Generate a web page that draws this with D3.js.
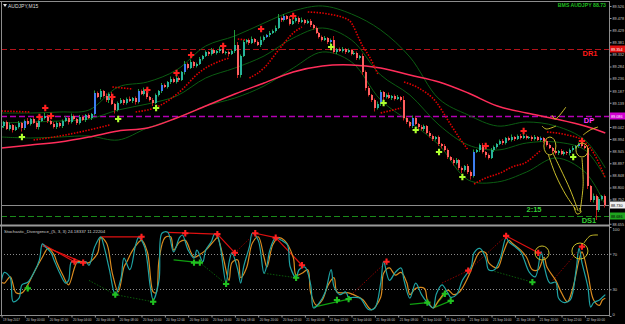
<!DOCTYPE html>
<html>
<head>
<meta charset="utf-8">
<script src="https://cdn.jsdelivr.net/npm/d3@7"></script>
<style>
  html, body { margin: 0; padding: 0; background: #000; overflow: hidden; }
  svg { display: block; }
  text { font-family: "Liberation Sans", Arial, sans-serif; }
</style>
</head>
<body>
<svg id="chart" width="625" height="324"></svg>
<script>
// AUDJPY M15, bar 0 = 19 Sep 2017 22:00
const startTime = Date.UTC(2017, 8, 19, 22, 0);
const firstOpen = 89.040;
const closes = [
  89.046,89.062,89.034,89.050,89.030,89.042,89.058,89.038,89.066,89.054,
  89.074,89.058,89.042,89.066,89.078,89.086,89.066,89.054,89.042,89.058,
  89.046,89.066,89.078,89.062,89.086,89.074,89.058,89.082,89.070,89.090,
  89.078,89.094,89.178,89.162,89.186,89.166,89.150,89.174,89.134,89.110,
  89.138,89.150,89.138,89.154,89.146,89.158,89.142,89.186,89.174,89.190,
  89.162,89.150,89.138,89.170,89.186,89.210,89.202,89.222,89.234,89.222,
  89.238,89.230,89.262,89.294,89.278,89.302,89.286,89.294,89.314,89.326,
  89.342,89.334,89.350,89.338,89.346,89.354,89.338,89.342,89.334,89.346,
  89.370,89.250,89.326,89.382,89.390,89.378,89.394,89.382,89.370,89.390,
  89.402,89.410,89.418,89.426,89.438,89.478,89.470,89.486,89.474,89.454,
  89.466,89.478,89.462,89.470,89.458,89.466,89.450,89.438,89.418,89.402,
  89.390,89.398,89.382,89.390,89.342,89.354,89.346,89.354,89.342,89.350,
  89.334,89.338,89.318,89.326,89.262,89.198,89.170,89.150,89.118,89.134,
  89.182,89.162,89.170,89.158,89.166,89.154,89.162,89.150,89.078,89.062,
  89.046,89.078,89.054,89.042,89.034,89.046,89.018,89.006,88.994,89.002,
  88.974,88.966,88.950,88.922,88.910,88.898,88.910,88.878,88.870,88.886,
  88.862,88.846,88.942,88.950,88.970,88.942,88.930,88.918,88.950,88.962,
  88.974,88.986,88.978,88.998,88.990,89.002,88.994,89.006,88.998,89.006,
  88.998,89.002,88.994,89.002,88.990,88.998,88.986,88.970,88.958,88.946,
  88.938,88.946,88.934,88.942,88.938,88.950,88.958,88.966,88.974,88.966,
  88.958,88.806,88.750,88.766,88.710,88.754,88.766,88.730
];
// wick lengths in points (0.001)
const wickUp = [
  8,4,6,10,4,6,8,4,6,12, 4,8,6,4,8,12,6,4,8,6, 4,6,8,4,10,6,4,8,6,4,
  6,4,10,6,8,4,10,6,8,4, 6,8,4,6,10,4,6,8,6,10, 6,4,8,6,4,8,6,4,10,6,
  8,6,4,12,6,10,4,6,8,4, 6,4,8,6,4,10,8,4,6,4, 60,12,6,8,4,6,10,4,6,14,
  6,4,8,6,10,16,6,8,4,12, 8,4,6,10,4,6,8,4,6,4, 6,8,4,6,16,4,6,8,4,6,
  4,8,6,4,10,6,8,4,6,10, 8,4,6,10,4,6,8,4,16,6, 4,10,6,4,8,6,4,8,6,4,
  6,4,8,6,4,6,8,4,6,4, 8,6,10,4,6,8,4,6,8,6, 4,6,8,4,6,10,4,6,8,10,
  6,4,6,8,4,6,4,8,6,4, 6,4,8,6,4,6,8,4,6,12, 6,8,4,10,6,8,4,6
];
const wickDn = [
  6,8,4,6,10,4,6,14,8,4, 6,4,8,10,4,6,8,4,6,8, 6,8,4,10,6,4,8,6,4,8,
  4,8,6,4,10,6,8,12,4,14, 6,4,8,6,4,8,10,6,4,6, 8,6,12,4,6,8,4,6,8,4,
  6,8,4,10,6,4,8,6,4,6, 4,8,6,4,6,8,4,6,10,4, 8,12,10,4,6,8,4,6,4,8,
  6,4,8,4,6,4,8,6,4,6, 4,6,8,4,6,4,8,6,4,6, 6,4,8,12,6,8,4,6,8,4,
  6,4,8,6,12,10,6,8,14,6, 8,12,6,4,8,6,4,6,10,8, 6,8,4,10,6,8,4,6,8,6,
  8,10,6,8,4,10,6,8,12,6, 8,14,6,4,8,6,10,6,4,8, 6,4,8,6,4,6,8,4,6,4,
  6,4,8,6,4,6,8,6,4,8, 6,8,4,6,8,10,6,4,8,6, 4,12,8,10,40,8,6,10
];
const blueBars = [8, 20, 32, 47, 55, 63, 91, 97, 113, 130, 141, 162, 185, 198];

// Bollinger bands and moving average, sampled every 10 bars
const bandIdx   = [0,10,20,30,40,50,60,70,80,90,100,110,120,130,140,150,160,170,180,190,200,207];
const bandUpper = [89.098,89.098,89.102,89.110,89.202,89.222,89.270,89.366,89.406,89.458,89.506,89.526,89.494,89.430,89.322,89.154,89.090,89.046,89.062,89.046,88.990,88.878];
const bandMid   = [89.058,89.062,89.066,89.074,89.110,89.134,89.166,89.238,89.278,89.326,89.398,89.438,89.390,89.250,89.170,89.050,88.970,88.950,88.978,88.982,88.950,88.838];
const bandLower = [89.002,88.998,89.002,89.006,88.990,89.038,89.078,89.126,89.158,89.206,89.278,89.342,89.302,89.150,89.062,88.970,88.830,88.822,88.862,88.918,88.862,88.730];
const maValues  = [88.958,88.970,88.982,89.002,89.026,89.038,89.078,89.126,89.174,89.218,89.262,89.286,89.290,89.278,89.250,89.222,89.178,89.126,89.098,89.074,89.046,89.018];

// Parabolic SAR, one list per trend
const sarSegments = [
  [[0,89.106],[10,89.102]],
  [[11,88.990],[20,89.006],[30,89.030],[37,89.050]],
  [[38,89.202],[45,89.194]],
  [[46,89.102],[54,89.126],[61,89.182],[68,89.262],[78,89.318]],
  [[81,89.394],[84,89.390]],
  [[85,89.238],[90,89.278],[95,89.350],[100,89.418],[103,89.442]],
  [[105,89.502],[112,89.494],[119,89.470],[124,89.362],[126,89.326],[129,89.254]],
  [[130,89.098],[137,89.118]],
  [[138,89.222],[143,89.198],[149,89.142],[153,89.070],[157,88.998],[160,88.950]],
  [[162,88.814],[166,88.838],[171,88.858],[175,88.882],[180,88.902],[183,88.930],[185,88.950]],
  [[187,89.022],[194,89.010],[199,88.990],[203,88.938],[207,88.838]]
];

// fractals
const fractalHigh = [[13,89.082],[15,89.118],[17,89.086],[38,89.162],[50,89.190],[60,89.258],[65,89.330],[76,89.366],[89,89.434],[100,89.486],[166,88.966],[179,89.026],[199,88.986]];
const fractalLow  = [[7,89.002],[40,89.074],[53,89.118],[113,89.362],[131,89.138],[142,89.030],[150,88.942],[158,88.842],[196,88.922]];

// pivot levels
const levelR1 = 89.354, levelDP = 89.086, levelS1 = 88.686;
const priceTicks = [89.526,89.478,89.429,89.381,89.332,89.284,89.236,89.187,89.139,89.090,89.042,88.994,88.945,88.897,88.848,88.800,88.752,88.703,88.655];

// stochastic (bar index, value)
const stochMain = [[0,40],[1,49],[3,43],[4,16],[6,20],[7,35],[9,38],[11,48],[13,63],[14,81],[15,78],[17,71],[18,63],[20,48],[22,37],[23,40],[24,61],[26,60],[27,60],[29,61],[30,57],[32,78],[34,89],[35,80],[37,52],[39,24],[41,43],[42,65],[44,52],[46,80],[47,88],[49,78],[51,33],[52,18],[54,40],[55,93],[57,94],[59,72],[61,88],[62,91],[64,74],[66,65],[67,74],[69,61],[70,74],[72,84],[73,92],[74,90],[75,78],[77,37],[78,60],[79,71],[81,52],[82,37],[83,55],[85,78],[86,93],[88,85],[90,48],[91,57],[92,74],[94,88],[96,85],[98,80],[99,55],[101,43],[102,52],[104,55],[106,35],[107,9],[109,15],[111,27],[113,52],[114,33],[116,24],[118,27],[119,21],[121,21],[123,20],[125,10],[126,7],[128,9],[130,37],[131,61],[133,40],[135,49],[137,54],[138,40],[140,20],[142,37],[144,24],[146,15],[148,9],[149,24],[151,35],[153,26],[154,21],[156,24],[158,40],[161,55],[162,71],[164,76],[166,65],[167,52],[169,52],[171,65],[173,88],[174,83],[176,78],[178,72],[179,65],[181,49],[183,44],[185,72],[186,57],[188,37],[190,38],[191,20],[193,15],[195,18],[197,52],[198,76],[199,60],[201,33],[202,10],[203,15],[205,18],[206,21],[207,24]];
const stochSignal = [[0,38],[1,37],[3,44],[5,26],[7,26],[9,35],[11,48],[14,66],[16,76],[18,69],[19,60],[21,46],[23,35],[25,54],[26,61],[29,60],[30,60],[33,71],[34,88],[36,82],[38,48],[40,27],[42,55],[43,61],[45,74],[48,85],[50,72],[52,27],[53,26],[54,63],[56,88],[58,89],[59,74],[61,83],[63,85],[65,71],[66,66],[68,69],[70,74],[73,85],[74,88],[76,66],[78,40],[79,60],[81,63],[82,43],[84,54],[86,82],[88,89],[90,66],[91,55],[93,80],[95,88],[97,85],[100,66],[101,46],[103,48],[105,52],[106,26],[108,12],[110,18],[112,35],[114,43],[115,27],[117,26],[119,26],[122,22],[124,18],[126,9],[127,7],[130,21],[131,48],[133,54],[135,46],[137,49],[139,37],[140,24],[142,31],[145,31],[146,18],[148,9],[150,18],[153,29],[155,24],[157,27],[160,44],[162,60],[164,72],[166,71],[167,60],[170,54],[172,71],[174,85],[175,82],[178,74],[180,66],[182,52],[184,52],[186,66],[187,55],[190,40],[192,26],[194,16],[196,33],[198,63],[199,72],[201,48],[203,18],[205,12],[206,18],[207,20]];
const stochLevels = [70, 30];
const stochTicks = [100, 70, 30, 0];

// divergence markers and lines in the stochastic window
const divPeaks   = [[25,61],[28,60],[48,89],[63,93],[74,92],[80,71],[87,93],[94,88],[103,57],[132,61],[160,51],[173,90],[184,71],[199,78]];
const divTroughs = [[9,31],[39,24],[52,16],[66,60],[68,60],[77,36],[101,43],[115,18],[119,19],[146,15],[152,25],[154,17],[182,38]];
const divLines = [
  {side:"bear", kind:"regular", a:[14,81], b:[25,61]},
  {side:"bear", kind:"regular", a:[14,79], b:[28,60]},
  {side:"bear", kind:"regular", a:[34,89], b:[48,89]},
  {side:"bear", kind:"regular", a:[57,94], b:[74,92]},
  {side:"bear", kind:"regular", a:[74,92], b:[80,71]},
  {side:"bear", kind:"hidden",  a:[80,71], b:[87,93]},
  {side:"bear", kind:"regular", a:[87,93], b:[94,88]},
  {side:"bear", kind:"regular", a:[94,88], b:[103,57]},
  {side:"bear", kind:"hidden",  a:[119,21], b:[132,61]},
  {side:"bear", kind:"hidden",  a:[151,37], b:[160,51]},
  {side:"bear", kind:"hidden",  a:[160,51], b:[173,90]},
  {side:"bear", kind:"regular", a:[173,90], b:[184,71]},
  {side:"bear", kind:"hidden",  a:[189,40], b:[199,78]},
  {side:"bull", kind:"hidden",  a:[30,40], b:[39,24]},
  {side:"bull", kind:"hidden",  a:[39,24], b:[52,16]},
  {side:"bull", kind:"regular", a:[59,63], b:[68,60]},
  {side:"bull", kind:"hidden",  a:[68,60], b:[77,36]},
  {side:"bull", kind:"hidden",  a:[90,48], b:[101,43]},
  {side:"bull", kind:"regular", a:[107,10], b:[119,19]},
  {side:"bull", kind:"regular", a:[140,13], b:[146,15]},
  {side:"bull", kind:"regular", a:[148,9], b:[152,25]},
  {side:"bull", kind:"regular", a:[148,9], b:[154,17]},
  {side:"bull", kind:"hidden",  a:[167,52], b:[182,38]}
];

// hand drawn notes (bar index, price / stoch value)
const noteStrokesMain = [
  [[187.5,88.930],[190,88.850],[193.5,88.770],[197,88.710]],
  [[189,88.938],[191.5,88.878],[195,88.790],[197.7,88.706]],
  [[199,88.918],[199.4,88.810],[198.3,88.702]],
  [[196.3,88.722],[197.3,88.694],[198.7,88.702],[198,88.718]],
  [[188.7,89.090],[189.8,89.074],[193.5,89.122]],
  [[185.3,89.046],[186.7,89.034],[190.1,89.046]],
  [[199.4,89.010],[201.8,89.030],[204.5,89.042]]
];
const noteCirclesMain = [[188,88.966],[199,88.950]];
const noteStrokesStoch = [[[199.7,82],[201.8,90],[204.5,91]]];
const noteCirclesStoch = [[185.3,70.8],[198.3,73]];

// ---------------------------------------------------------------
const svg = d3.select("#chart");
svg.append("rect").attr("width", 625).attr("height", 324).attr("fill", "#000");

const n = closes.length;
const x = d3.scaleLinear().domain([0, n - 1]).range([1.5, 605.3]);
const y = d3.scaleLinear().domain([89.550, 88.650]).range([0, 225]);
const yS = d3.scaleLinear().domain([0, 100]).range([316, 227]);
const xTime = d3.scaleUtc()
  .domain([new Date(startTime), new Date(startTime + (n - 1) * 900000)])
  .range([1.5, 605.3]);

const defs = svg.append("defs");
defs.append("clipPath").attr("id", "clipMain").append("rect")
  .attr("x", 1).attr("y", 2).attr("width", 608).attr("height", 223);
defs.append("clipPath").attr("id", "clipStoch").append("rect")
  .attr("x", 1).attr("y", 227).attr("width", 608).attr("height", 88);

const gMain = svg.append("g").attr("clip-path", "url(#clipMain)");
const gStoch = svg.append("g").attr("clip-path", "url(#clipStoch)");

// horizontal levels
function hline(g, yy, color, dash, w) {
  g.append("line").attr("x1", 1).attr("x2", 609)
    .attr("y1", Math.round(yy) + 0.5).attr("y2", Math.round(yy) + 0.5)
    .attr("stroke", color).attr("stroke-width", w || 1)
    .attr("stroke-dasharray", dash);
}
hline(gMain, y(levelR1), "#b3121a", "6,3");
hline(gMain, y(levelDP), "#b400b4", "6,3", 1.3);
hline(gMain, y(levelS1), "#1a8a1a", "6,3");
hline(gMain, y(closes[n - 1]), "#8c8c8c", null);

// bands + MA
const lineIdx = (vals) => d3.line()
  .x((d, k) => x(bandIdx[k])).y(d => y(d))
  .curve(d3.curveCatmullRom)(vals);
[bandUpper, bandMid, bandLower].forEach(b => {
  gMain.append("path").attr("d", lineIdx(b)).attr("fill", "none")
    .attr("stroke", "#0b5d12").attr("stroke-width", 1);
});
gMain.append("path").attr("d", lineIdx(maValues)).attr("fill", "none")
  .attr("stroke", "#ff2d5a").attr("stroke-width", 1.5);

// SAR
const sarLine = d3.line().x(d => x(d[0])).y(d => y(d[1])).curve(d3.curveMonotoneX);
sarSegments.forEach(seg => {
  gMain.append("path").attr("d", sarLine(seg)).attr("fill", "none")
    .attr("stroke", "#e00000").attr("stroke-width", 1.6)
    .attr("stroke-dasharray", "1.5,1.42");
});

// candles
const candles = closes.map((c, i) => {
  const o = i === 0 ? firstOpen : closes[i - 1];
  return { i, o, c, h: Math.max(o, c) + wickUp[i] / 1000, l: Math.min(o, c) - wickDn[i] / 1000 };
});
const bodyColor = d => d.c < d.o ? "#ff5f5f" : (blueBars.includes(d.i) ? "#3d7ff0" : "#27b39b");
gMain.selectAll("rect.wick").data(candles).join("rect")
  .attr("class", "wick")
  .attr("x", d => Math.round(x(d.i)) - 1)
  .attr("width", 1)
  .attr("y", d => y(d.h))
  .attr("height", d => y(d.l) - y(d.h))
  .attr("fill", d => d.c < d.o ? "#c01818" : "#1f9a3c");
gMain.selectAll("rect.body").data(candles).join("rect")
  .attr("class", "body")
  .attr("x", d => Math.round(x(d.i)) - 1)
  .attr("width", 2)
  .attr("y", d => y(Math.max(d.o, d.c)))
  .attr("height", d => Math.max(1, y(Math.min(d.o, d.c)) - y(Math.max(d.o, d.c))))
  .attr("fill", bodyColor);

// fractal marks
const cross = d3.symbol().type(d3.symbolCross).size(22);
gMain.selectAll("path.fh").data(fractalHigh).join("path")
  .attr("d", cross).attr("fill", "#ff2020")
  .attr("transform", d => `translate(${x(d[0])},${y(d[1])})`);
gMain.selectAll("path.fl").data(fractalLow).join("path")
  .attr("d", cross).attr("fill", "#adff2f")
  .attr("transform", d => `translate(${x(d[0])},${y(d[1])})`);

// notes
const noteColor = "#c9bd2a";
const noteLine = d3.line().x(d => x(d[0])).y(d => y(d[1])).curve(d3.curveCatmullRom);
noteStrokesMain.forEach(s => gMain.append("path").attr("d", noteLine(s))
  .attr("fill", "none").attr("stroke", noteColor).attr("stroke-width", 1));
gMain.selectAll("ellipse.note").data(noteCirclesMain).join("ellipse")
  .attr("cx", d => x(d[0])).attr("cy", d => y(d[1]))
  .attr("rx", 6).attr("ry", (d, k) => k === 0 ? 9 : 7)
  .attr("fill", "none").attr("stroke", noteColor);

// level labels
const lab = (tx, ty, str, color, size) => svg.append("text")
  .attr("x", tx).attr("y", ty).attr("text-anchor", "middle")
  .attr("font-size", size || 7.5).attr("font-weight", "bold")
  .attr("fill", color).text(str);
lab(590, y(levelR1) + 7, "DR1", "#ff1a1a");
lab(589, y(levelDP) + 7, "DP", "#ff33ff");
lab(534, y(closes[n - 1]) + 7, "2:15", "#33cc33");
lab(589, y(levelS1) + 7, "DS1", "#33cc33");

svg.append("text").attr("x", 606).attr("y", 7).attr("text-anchor", "end")
  .attr("font-size", 5.2).attr("font-weight", "bold").attr("fill", "#1fbf1f")
  .text("BMS AUDJPY 88.73");
svg.append("path").attr("d", "M3,4 L7,4 L5,7 Z").attr("fill", "#ddd");
svg.append("text").attr("x", 8).attr("y", 7.5).attr("font-size", 5)
  .attr("fill", "#ddd").text("AUDJPY,M15");

// stochastic window
stochLevels.forEach(v => {
  gStoch.append("line").attr("x1", 1).attr("x2", 609)
    .attr("y1", Math.round(yS(v)) + 0.5).attr("y2", Math.round(yS(v)) + 0.5)
    .attr("stroke", "#8a8a8a").attr("stroke-dasharray", "1,2");
});
const divColor = {
  bear: { regular: "#e01010", hidden: "#8b0000" },
  bull: { regular: "#10a010", hidden: "#0a5a0a" }
};
gStoch.selectAll("line.div").data(divLines).join("line")
  .attr("x1", d => x(d.a[0])).attr("y1", d => yS(d.a[1]))
  .attr("x2", d => x(d.b[0])).attr("y2", d => yS(d.b[1]))
  .attr("stroke", d => divColor[d.side][d.kind])
  .attr("stroke-width", d => d.kind === "regular" ? 1.2 : 1)
  .attr("stroke-dasharray", d => d.kind === "hidden" ? "1.5,1.5" : null);

const stLine = d3.line().x(d => x(d[0])).y(d => yS(d[1])).curve(d3.curveCatmullRom);
gStoch.append("path").attr("d", stLine(stochSignal)).attr("fill", "none")
  .attr("stroke", "#d98a1f").attr("stroke-width", 1.2);
gStoch.append("path").attr("d", stLine(stochMain)).attr("fill", "none")
  .attr("stroke", "#1fa3a3").attr("stroke-width", 1.2);

gStoch.selectAll("path.dp").data(divPeaks).join("path")
  .attr("d", cross).attr("fill", "#ff2020")
  .attr("transform", d => `translate(${x(d[0])},${yS(d[1])})`);
gStoch.selectAll("path.dt").data(divTroughs).join("path")
  .attr("d", cross).attr("fill", "#20c020")
  .attr("transform", d => `translate(${x(d[0])},${yS(d[1])})`);

const noteLineS = d3.line().x(d => x(d[0])).y(d => yS(d[1])).curve(d3.curveCatmullRom);
noteStrokesStoch.forEach(s => gStoch.append("path").attr("d", noteLineS(s))
  .attr("fill", "none").attr("stroke", noteColor));
gStoch.selectAll("circle.note").data(noteCirclesStoch).join("circle")
  .attr("cx", d => x(d[0])).attr("cy", d => yS(d[1]))
  .attr("r", (d, k) => k === 0 ? 7 : 8)
  .attr("fill", "none").attr("stroke", noteColor);

svg.append("text").attr("x", 4).attr("y", 233).attr("font-size", 4.4)
  .attr("fill", "#d0d0d0")
  .text("Stochastic_Divergence_(5, 3, 3) 24.18337 11.22204");

// frame
const frame = svg.append("g").attr("stroke", "#8c8c8c").attr("fill", "none");
frame.append("line").attr("x1", 0).attr("x2", 610).attr("y1", 1.5).attr("y2", 1.5);
frame.append("line").attr("x1", 1.5).attr("x2", 1.5).attr("y1", 1).attr("y2", 316);
frame.append("line").attr("x1", 609.5).attr("x2", 609.5).attr("y1", 1).attr("y2", 316);
frame.append("line").attr("x1", 0).attr("x2", 610).attr("y1", 225.5).attr("y2", 225.5)
  .attr("stroke-width", 2).attr("stroke", "#9a9a9a");
frame.append("line").attr("x1", 0).attr("x2", 610).attr("y1", 315.5).attr("y2", 315.5);

// price boxes on the axis
const boxes = [
  { v: levelR1, bg: "#e01010", fg: "#ffffff" },
  { v: levelDP, bg: "#d000d0", fg: "#ffffff" },
  { v: closes[n - 1], bg: "#f0f0f0", fg: "#000000" },
  { v: levelS1, bg: "#1fa51f", fg: "#000000" }
];

// axes
function styleAxis(g) {
  g.select(".domain").remove();
  g.selectAll("line").attr("stroke", "#9a9a9a");
  g.selectAll("text").attr("fill", "#c8c8c8").attr("font-size", 4.2)
    .attr("font-family", "Liberation Sans, Arial, sans-serif");
}
// labels hidden under a price box are left out
const freeTicks = priceTicks.filter(t => boxes.every(b => Math.abs(y(t) - y(b.v)) > 5));
svg.append("g").attr("transform", "translate(609.5,0)")
  .call(d3.axisRight(y).tickValues(freeTicks).tickSize(2).tickPadding(1)
    .tickFormat(d3.format(".3f")))
  .call(styleAxis)
  .selectAll("text").attr("textLength", 11.5).attr("lengthAdjust", "spacingAndGlyphs");

svg.append("g").attr("transform", "translate(609.5,0)")
  .call(d3.axisRight(yS).tickValues(stochTicks).tickSize(2).tickPadding(1))
  .call(styleAxis)
  .selectAll("text").attr("dy", (d) => d === 100 ? "0.9em" : (d === 0 ? "-0.1em" : "0.32em"));

const gBox = svg.append("g");
boxes.forEach(b => {
  gBox.append("rect").attr("x", 610).attr("y", y(b.v) - 3.5)
    .attr("width", 15).attr("height", 7).attr("fill", b.bg);
  gBox.append("text").attr("x", 611).attr("y", y(b.v) + 1.6)
    .attr("font-size", 4.2).attr("fill", b.fg)
    .attr("textLength", 11.5).attr("lengthAdjust", "spacingAndGlyphs")
    .text(d3.format(".3f")(b.v));
});

// time axis
const timeTicks = [new Date(startTime)].concat(
  d3.utcHour.every(2).range(new Date(Date.UTC(2017, 8, 20, 0)), new Date(Date.UTC(2017, 8, 22, 1))));
const fmtFirst = d3.utcFormat("%d %b %Y"), fmtOther = d3.utcFormat("%d %b %H:%M");
const gT = svg.append("g").attr("transform", "translate(0,315.5)")
  .call(d3.axisBottom(xTime).tickValues(timeTicks).tickSize(2).tickPadding(1)
    .tickFormat((d, k) => k === 0 ? fmtFirst(d) : fmtOther(d)))
  .call(styleAxis);
gT.selectAll("text").attr("text-anchor", "start").attr("dx", 1).attr("font-size", 4.2)
  .attr("textLength", (d, k) => k === 0 ? 17 : 18.5).attr("lengthAdjust", "spacingAndGlyphs");
</script>
</body>
</html>
